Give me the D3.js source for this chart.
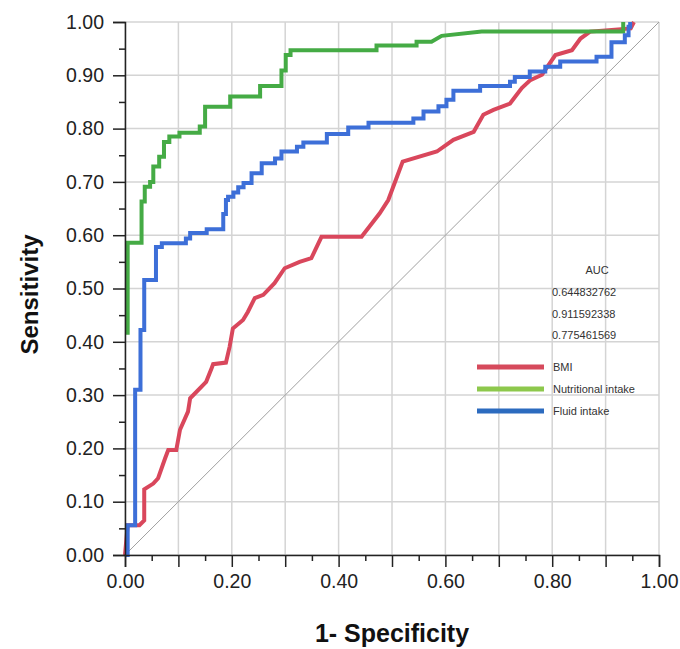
<!DOCTYPE html>
<html>
<head>
<meta charset="utf-8">
<script src="https://cdn.jsdelivr.net/npm/d3@7"></script>
<style>
  body { margin: 0; background: #fff; }
  text { font-family: "Liberation Sans", Arial, sans-serif; }
</style>
</head>
<body>
<div id="chart"></div>
<script>
// ROC curves: false positive rate (1 - specificity) and sensitivity
var bmiFpr = [0, 0.005, 0.027, 0.036, 0.036, 0.053, 0.062, 0.075, 0.081, 0.096, 0.103, 0.118, 0.122, 0.152, 0.162, 0.165, 0.189, 0.196, 0.202, 0.221, 0.230, 0.243, 0.259, 0.280, 0.299, 0.327, 0.349, 0.368, 0.443, 0.477, 0.493, 0.520, 0.584, 0.615, 0.653, 0.671, 0.690, 0.721, 0.743, 0.759, 0.781, 0.793, 0.806, 0.837, 0.853, 0.871, 0.947, 0.953];
var bmiTpr = [0, 0.056, 0.056, 0.065, 0.123, 0.134, 0.144, 0.181, 0.197, 0.197, 0.235, 0.269, 0.294, 0.325, 0.350, 0.358, 0.361, 0.391, 0.425, 0.441, 0.456, 0.482, 0.488, 0.510, 0.538, 0.550, 0.557, 0.597, 0.597, 0.641, 0.666, 0.738, 0.757, 0.779, 0.794, 0.826, 0.835, 0.847, 0.876, 0.891, 0.901, 0.919, 0.938, 0.947, 0.969, 0.982, 0.988, 1.0];

var nutFpr = [0.005, 0.005, 0.031, 0.031, 0.037, 0.037, 0.047, 0.047, 0.053, 0.053, 0.064, 0.064, 0.073, 0.073, 0.083, 0.083, 0.102, 0.102, 0.140, 0.140, 0.150, 0.150, 0.197, 0.197, 0.253, 0.253, 0.293, 0.293, 0.301, 0.301, 0.310, 0.310, 0.471, 0.471, 0.546, 0.546, 0.574, 0.593, 0.668, 0.933, 0.933];
var nutTpr = [0.413, 0.586, 0.586, 0.663, 0.663, 0.691, 0.691, 0.700, 0.700, 0.729, 0.729, 0.747, 0.747, 0.775, 0.775, 0.785, 0.785, 0.792, 0.792, 0.804, 0.804, 0.841, 0.841, 0.860, 0.860, 0.880, 0.880, 0.909, 0.909, 0.938, 0.938, 0.947, 0.947, 0.956, 0.956, 0.963, 0.963, 0.974, 0.982, 0.982, 1.0];

var fluidFpr = [0, 0.005, 0.005, 0.019, 0.019, 0.029, 0.029, 0.036, 0.036, 0.058, 0.058, 0.069, 0.069, 0.114, 0.114, 0.122, 0.122, 0.153, 0.153, 0.184, 0.184, 0.189, 0.189, 0.193, 0.193, 0.203, 0.203, 0.212, 0.212, 0.222, 0.222, 0.237, 0.237, 0.256, 0.256, 0.281, 0.281, 0.293, 0.293, 0.322, 0.322, 0.334, 0.334, 0.378, 0.378, 0.418, 0.418, 0.456, 0.456, 0.540, 0.540, 0.559, 0.559, 0.587, 0.587, 0.602, 0.602, 0.615, 0.615, 0.665, 0.665, 0.721, 0.721, 0.730, 0.730, 0.758, 0.758, 0.787, 0.787, 0.815, 0.815, 0.883, 0.883, 0.911, 0.911, 0.936, 0.936, 0.943, 0.943, 0.946, 0.946];
var fluidTpr = [0, 0, 0.056, 0.056, 0.310, 0.310, 0.422, 0.422, 0.516, 0.516, 0.578, 0.578, 0.585, 0.585, 0.594, 0.594, 0.604, 0.604, 0.611, 0.611, 0.640, 0.640, 0.666, 0.666, 0.672, 0.672, 0.680, 0.680, 0.690, 0.690, 0.698, 0.698, 0.716, 0.716, 0.735, 0.735, 0.744, 0.744, 0.757, 0.757, 0.766, 0.766, 0.774, 0.774, 0.790, 0.790, 0.802, 0.802, 0.811, 0.811, 0.819, 0.819, 0.832, 0.832, 0.842, 0.842, 0.854, 0.854, 0.871, 0.871, 0.880, 0.880, 0.888, 0.888, 0.897, 0.897, 0.907, 0.907, 0.916, 0.916, 0.926, 0.926, 0.935, 0.935, 0.962, 0.962, 0.975, 0.975, 0.991, 0.991, 1.0];

var seriesNames = ["BMI", "Nutritional intake", "Fluid intake"];
var aucValues = ["0.644832762", "0.911592338", "0.775461569"];
var xTickLabels = [0, 0.2, 0.4, 0.6, 0.8, 1.0];
var yTickLabels = [0, 0.1, 0.2, 0.3, 0.4, 0.5, 0.6, 0.7, 0.8, 0.9, 1.0];
var gridValues = [0, 0.1, 0.2, 0.3, 0.4, 0.5, 0.6, 0.7, 0.8, 0.9, 1.0];
var minorTicks = [0.05, 0.15, 0.25, 0.35, 0.45, 0.55, 0.65, 0.75, 0.85, 0.95];

var width = 680, height = 649;
var marginLeft = 125, marginTop = 22, plotW = 534, plotH = 533;

var svg = d3.select("#chart")
  .append("svg")
  .attr("width", width)
  .attr("height", height);

var x = d3.scaleLinear().domain([0, 1]).range([marginLeft, marginLeft + plotW]);
var y = d3.scaleLinear().domain([0, 1]).range([marginTop + plotH, marginTop]);

// grid
svg.append("g").selectAll("line").data(gridValues).enter().append("line")
  .attr("x1", function(d) { return x(d); })
  .attr("x2", function(d) { return x(d); })
  .attr("y1", y(0)).attr("y2", y(1))
  .style("stroke", "#d4d4d4").style("stroke-width", 1.5);
svg.append("g").selectAll("line").data(gridValues).enter().append("line")
  .attr("y1", function(d) { return y(d); })
  .attr("y2", function(d) { return y(d); })
  .attr("x1", x(0)).attr("x2", x(1))
  .style("stroke", "#d4d4d4").style("stroke-width", 1.5);

// reference diagonal
svg.append("line")
  .attr("x1", x(0)).attr("y1", y(0))
  .attr("x2", x(1)).attr("y2", y(1))
  .style("stroke", "#a0a0a0").style("stroke-width", 1);

var colors = ["#d9475c", "#45ab45", "#3d6fd8"];
var legendColors = ["#d64a5c", "#8dc84c", "#2c6bbf"];
var curves = [
  { fpr: bmiFpr, tpr: bmiTpr },
  { fpr: nutFpr, tpr: nutTpr },
  { fpr: fluidFpr, tpr: fluidTpr }
];

var line = d3.line()
  .x(function(d) { return x(d[0]); })
  .y(function(d) { return y(d[1]); });

curves.forEach(function(c, i) {
  var pts = c.fpr.map(function(v, j) { return [v, c.tpr[j]]; });
  svg.append("path")
    .datum(pts)
    .attr("d", line)
    .style("fill", "none")
    .style("stroke", colors[i])
    .style("stroke-width", 4)
    .style("stroke-linejoin", "miter");
});

// axes
var fmt = d3.format(".2f");
svg.append("g")
  .attr("transform", "translate(" + marginLeft + ",0)")
  .call(d3.axisLeft(y).tickValues(yTickLabels).tickFormat(fmt).tickSize(12).tickPadding(9));
svg.append("g")
  .attr("transform", "translate(" + marginLeft + ",0)")
  .call(d3.axisLeft(y).tickValues(minorTicks).tickFormat("").tickSize(6))
  .select(".domain").remove();

svg.append("g")
  .attr("transform", "translate(0," + (marginTop + plotH) + ")")
  .call(d3.axisBottom(x).tickValues(gridValues).tickFormat(function(d) {
    return xTickLabels.some(function(v) { return Math.abs(v - d) < 1e-9; }) ? fmt(d) : "";
  }).tickSize(12).tickPadding(7));
svg.append("g")
  .attr("transform", "translate(0," + (marginTop + plotH) + ")")
  .call(d3.axisBottom(x).tickValues(minorTicks).tickFormat("").tickSize(6))
  .select(".domain").remove();

svg.selectAll(".domain").style("stroke", "#222").style("stroke-width", 1.5);
svg.selectAll(".tick line").style("stroke", "#222").style("stroke-width", 1.5);
svg.selectAll(".tick text")
  .style("font-family", "'Liberation Sans', Arial, sans-serif")
  .style("font-size", "19.5px")
  .style("fill", "#222");

// axis titles
svg.append("text")
  .attr("x", (marginLeft + marginLeft + plotW) / 2)
  .attr("y", 642)
  .attr("text-anchor", "middle")
  .style("font-size", "25px")
  .style("font-weight", "bold")
  .style("fill", "#111")
  .text("1- Specificity");

svg.append("text")
  .attr("transform", "translate(38," + (marginTop + plotH / 2 + 6) + ") rotate(-90)")
  .attr("text-anchor", "middle")
  .style("font-size", "24px")
  .style("font-weight", "bold")
  .style("fill", "#111")
  .text("Sensitivity");

// AUC table and legend
svg.append("text")
  .attr("x", 597).attr("y", 274)
  .attr("text-anchor", "middle")
  .style("font-size", "11px").style("fill", "#333")
  .text("AUC");
aucValues.forEach(function(v, i) {
  svg.append("text")
    .attr("x", 552).attr("y", 296 + i * 21.5)
    .style("font-size", "11px").style("fill", "#333")
    .text(v);
});
seriesNames.forEach(function(name, i) {
  var ly = 367 + i * 22;
  svg.append("line")
    .attr("x1", 477).attr("x2", 544)
    .attr("y1", ly).attr("y2", ly)
    .style("stroke", legendColors[i]).style("stroke-width", 5);
  svg.append("text")
    .attr("x", 553).attr("y", ly + 4)
    .style("font-size", "11px").style("fill", "#333")
    .text(name);
});
</script>
</body>
</html>
